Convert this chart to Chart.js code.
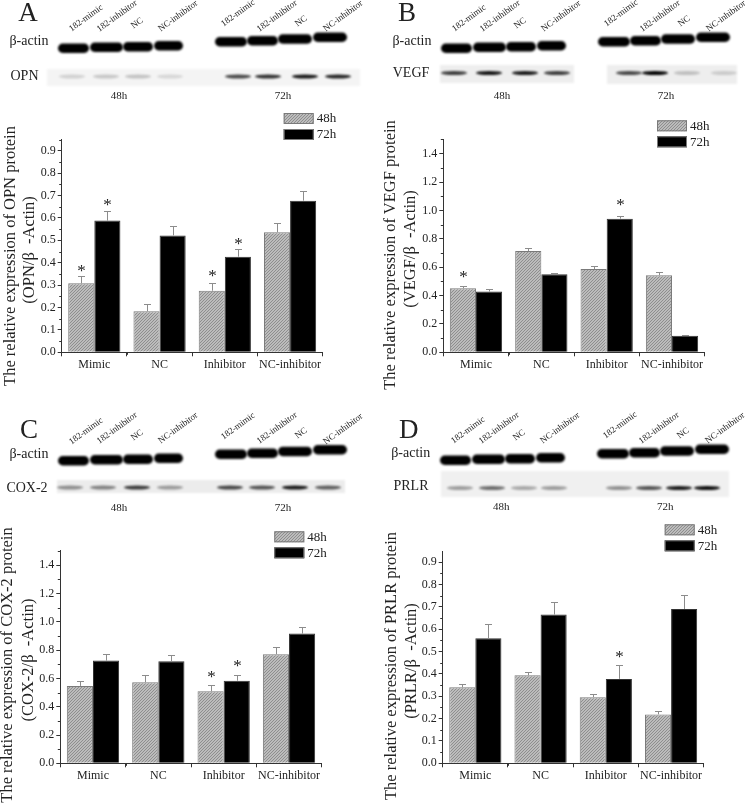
<!DOCTYPE html>
<html>
<head>
<meta charset="utf-8">
<style>
    html, body { margin: 0; padding: 0; background: #fff; }
    #page { position: relative; width: 745px; height: 805px; overflow: hidden; font-family: "Liberation Serif", serif; color: #222; filter: blur(0.3px); }
    #page canvas { position: absolute; }
    .txt { position: absolute; white-space: pre; line-height: 1; }
</style>
</head>
<body>
<div id="page"><canvas id="blots" width="745" height="805" style="left:0;top:0"></canvas></div>
<script src="https://cdn.jsdelivr.net/npm/chart.js@4/dist/chart.umd.min.js"></script>
<script>
const categories = ['Mimic', 'NC', 'Inhibitor', 'NC-inhibitor'];
const seriesNames = ['48h', '72h'];
const laneNames = ['182-mimic', '182-inhibitor', 'NC', 'NC-inhibitor'];

// Panel A, OPN
const opn48 = [0.308, 0.183, 0.275, 0.536];
const opn72 = [0.588, 0.522, 0.427, 0.677];
const opnTop48 = [0.339, 0.214, 0.308, 0.577];
const opnTop72 = [0.629, 0.563, 0.460, 0.719];
const opnStar48 = [0.375, null, 0.353, null];
const opnStar72 = [0.670, null, 0.497, null];

// Panel B, VEGF
const vegf48 = [0.451, 0.714, 0.587, 0.543];
const vegf72 = [0.428, 0.550, 0.942, 0.117];
const vegfTop48 = [0.465, 0.733, 0.606, 0.564];
const vegfTop72 = [0.446, 0.556, 0.960, 0.122];
const vegfStar48 = [0.552, null, null, null];
const vegfStar72 = [null, null, 1.057, null];

// Panel C, COX-2
const cox48 = [0.547, 0.573, 0.509, 0.771];
const cox72 = [0.726, 0.721, 0.584, 0.917];
const coxTop48 = [0.582, 0.625, 0.551, 0.820];
const coxTop72 = [0.771, 0.766, 0.622, 0.962];
const coxStar48 = [null, null, 0.634, null];
const coxStar72 = [null, null, 0.709, null];

// Panel D, PRLR
const prlr48 = [0.340, 0.394, 0.296, 0.219];
const prlr72 = [0.560, 0.666, 0.378, 0.691];
const prlrTop48 = [0.354, 0.407, 0.310, 0.233];
const prlrTop72 = [0.622, 0.721, 0.439, 0.752];
const prlrStar48 = [null, null, null, null];
const prlrStar72 = [null, null, 0.491, null];

// Blot band darkness, 8 lanes each
const opnBands = [0.14, 0.18, 0.2, 0.12, 0.7, 0.8, 0.9, 0.85];
const vegfBands = [0.75, 0.92, 0.9, 0.75, 0.7, 1, 0.2, 0.15];
const coxBands = [0.4, 0.45, 0.75, 0.35, 0.7, 0.65, 0.9, 0.6];
const prlrBands = [0.35, 0.55, 0.3, 0.35, 0.4, 0.65, 0.9, 0.95];

const panels = [
    { letter: 'A', protein: 'OPN', short: 'OPN', ox: 0, oy: 0, letterX: 28, letterY: 12,
      s48: opn48, s72: opn72, top48: opnTop48, top72: opnTop72, star48: opnStar48, star72: opnStar72,
      max: 0.951, step: 0.1, canvasTop: 105, left: 61.7, right: 322.7, axisTop: 139.3, zero: 352.3,
      legendX: 283.7, legendY: 113, title1: [10.3, 255.5], title2: [29, 250],
      actinLabel: [29, 41], rowLabel: [24.5, 76], hourY: 94.7, hourX: [119, 283],
      bands: opnBands, bandY: 76.5, bandX: [72, 106, 138, 170, 238, 268, 305, 338],
      patches: [[47, 69, 313, 17, '#f4f4f4']] },
    { letter: 'B', protein: 'VEGF', short: 'VEGF', ox: 383, oy: 0, letterX: 407, letterY: 12,
      s48: vegf48, s72: vegf72, top48: vegfTop48, top72: vegfTop72, star48: vegfStar48, star72: vegfStar72,
      max: 1.501, step: 0.2, canvasTop: 105, left: 443.3, right: 704.7, axisTop: 139.3, zero: 352.3,
      legendX: 657, legendY: 120.3, title1: [390.3, 254.5], title2: [410.3, 248.7],
      actinLabel: [412, 41], rowLabel: [411, 73], hourY: 94.7, hourX: [502, 666],
      bands: vegfBands, bandY: 73, bandX: [71, 106, 142, 174, 246, 272, 304, 341],
      patches: [[440, 65, 134, 18, '#eeeeee'], [607, 65, 130, 19, '#eeeeee']] },
    { letter: 'C', protein: 'COX-2', short: 'COX-2', ox: 0, oy: 412.5, letterX: 29, letterY: 429,
      s48: cox48, s72: cox72, top48: coxTop48, top72: coxTop72, star48: coxStar48, star72: coxStar72,
      max: 1.503, step: 0.2, canvasTop: 520, left: 60.3, right: 321.7, axisTop: 550.7, zero: 763.3,
      legendX: 274.3, legendY: 531.3, title1: [7, 664.7], title2: [28, 660],
      actinLabel: [29, 454], rowLabel: [27, 488], hourY: 507, hourX: [119, 283],
      bands: coxBands, bandY: 487.5, bandX: [70, 103, 137, 170, 230, 262, 295, 328],
      patches: [[57, 480, 288, 13, '#ececec']] },
    { letter: 'D', protein: 'PRLR', short: 'PRLR', ox: 382, oy: 412, letterX: 408.7, letterY: 429,
      s48: prlr48, s72: prlr72, top48: prlrTop48, top72: prlrTop72, star48: prlrStar48, star72: prlrStar72,
      max: 0.9475, step: 0.1, canvasTop: 515, left: 442.7, right: 703.7, axisTop: 551.7, zero: 763.3,
      legendX: 664.7, legendY: 524.3, title1: [391.3, 665.5], title2: [411.3, 661],
      actinLabel: [410.7, 452.7], rowLabel: [411, 485.7], hourY: 505.7, hourX: [501.3, 665.3],
      bands: prlrBands, bandY: 488, bandX: [78, 110, 142, 172, 237, 267, 297, 325],
      patches: [[441, 471, 288, 26, '#f0f0f0']] }
];

const FONT = '"Liberation Serif", serif';
const page = document.getElementById('page');

// Put a centred bit of text on the page
function addText(text, x, y, size, angle) {
    const el = document.createElement('div');
    el.className = 'txt';
    el.textContent = text;
    el.style.left = x + 'px';
    el.style.top = y + 'px';
    el.style.fontSize = size + 'px';
    el.style.transform = 'translate(-50%,-50%) rotate(' + (angle || 0) + 'deg)';
    page.appendChild(el);
}

// Hatched fill for the 48h bars
function makeHatch() {
    const tile = document.createElement('canvas');
    tile.width = 3;
    tile.height = 3;
    const c = tile.getContext('2d');
    c.fillStyle = '#bcbcbc';
    c.fillRect(0, 0, 3, 3);
    c.fillStyle = '#8e8e8e';
    c.fillRect(2, 0, 1, 1);
    c.fillRect(1, 1, 1, 1);
    c.fillRect(0, 2, 1, 1);
    return c.createPattern(tile, 'repeat');
}
const hatch = makeHatch();

// Western blot strips above each chart
function drawBlots() {
    const ctx = document.getElementById('blots').getContext('2d');
    // left edge, width and centre y of the beta-actin bands
    const actin = [[58, 31, 48.3], [90, 33, 47.3], [123, 30, 46.7], [154, 29, 45.7],
                   [215, 32, 41.7], [247, 31, 40.7], [278, 34, 39], [313, 34, 37.3]];
    panels.forEach(function(p) {
        p.patches.forEach(function(r) {
            ctx.fillStyle = r[4];
            ctx.filter = 'blur(1px)';
            ctx.fillRect(r[0], r[1], r[2], r[3]);
        });
        ctx.filter = 'blur(1.1px)';
        ctx.fillStyle = '#000';
        actin.forEach(function(b) {
            ctx.beginPath();
            ctx.roundRect(p.ox + b[0], p.oy + b[2] - 4.7, b[1], 9.4, 4.7);
            ctx.fill();
        });
        ctx.filter = 'blur(0.9px)';
        p.bands.forEach(function(a, i) {
            ctx.fillStyle = 'rgba(0,0,0,' + a + ')';
            ctx.beginPath();
            ctx.ellipse(p.ox + p.bandX[i], p.bandY, 13, 2, 0, 0, Math.PI * 2);
            ctx.fill();
        });
        ctx.filter = 'none';
    });
}

function drawPageText() {
    const laneCentres = [[85.7, 18.3], [116.7, 15.7], [137.3, 22.7], [178.3, 15.7],
                         [238.3, 13.3], [276.7, 15.7], [300.7, 20.7], [343.3, 16]];
    panels.forEach(function(p) {
        addText(p.letter, p.letterX, p.letterY, 27);
        addText('β-actin', p.actinLabel[0], p.actinLabel[1], 14);
        addText(p.short, p.rowLabel[0], p.rowLabel[1], 14);
        addText(seriesNames[0], p.hourX[0], p.hourY, 11);
        addText(seriesNames[1], p.hourX[1], p.hourY, 11);
        laneCentres.forEach(function(c, i) {
            addText(laneNames[i % 4], p.ox + c[0], p.oy + c[1], 9, -36);
        });
        addText('The relative expression of ' + p.protein + ' protein', p.title1[0], p.title1[1], 16.5, -90);
        addText('(' + p.short + '/β  -Actin)', p.title2[0], p.title2[1], 16.5, -90);
    });
}

// Minor ticks, error bars, asterisks and the legend box
const extras = {
    id: 'extras',
    afterDatasetsDraw(chart, args, opts) {
        const p = opts.panel;
        const ctx = chart.ctx;
        const x = chart.scales.x;
        const y = chart.scales.y;
        ctx.save();

        ctx.strokeStyle = '#333';
        ctx.lineWidth = 1;
        ctx.beginPath();
        for (let v = p.step / 2; v < p.max; v += p.step) {
            const py = Math.round(y.getPixelForValue(v)) + 0.5;
            ctx.moveTo(x.left - 2.5, py);
            ctx.lineTo(x.left, py);
        }
        for (let i = 0; i < categories.length - 1; i++) {
            const px = Math.round(x.getPixelForValue(i + 0.5)) + 0.5;
            ctx.moveTo(px, y.bottom);
            ctx.lineTo(px, y.bottom + 2.5);
        }
        ctx.stroke();

        [[p.s48, p.top48, p.star48], [p.s72, p.top72, p.star72]].forEach(function(s, d) {
            const bars = chart.getDatasetMeta(d).data;
            s[0].forEach(function(val, i) {
                const bx = Math.round(bars[i].x) + 0.5;
                const base = y.getPixelForValue(val);
                const top = Math.round(y.getPixelForValue(s[1][i])) + 0.5;
                ctx.strokeStyle = '#8c8c8c';
                ctx.beginPath();
                ctx.moveTo(bx, base);
                ctx.lineTo(bx, top);
                ctx.moveTo(bx - 3.5, top);
                ctx.lineTo(bx + 3.5, top);
                ctx.stroke();
                if (s[2][i] !== null) {
                    ctx.fillStyle = '#222';
                    ctx.font = '17px ' + FONT;
                    ctx.textAlign = 'center';
                    ctx.textBaseline = 'alphabetic';
                    ctx.fillText('*', bx, y.getPixelForValue(s[2][i]) + 8);
                }
            });
        });

        chart.data.datasets.forEach(function(ds, i) {
            const ly = p.legendY - p.canvasTop + i * 16;
            ctx.fillStyle = ds.backgroundColor;
            ctx.fillRect(p.legendX, ly, 30, 11);
            ctx.strokeStyle = '#7a7a7a';
            ctx.strokeRect(p.legendX + 0.5, ly + 0.5, 29, 10);
            ctx.fillStyle = '#222';
            ctx.font = '13px ' + FONT;
            ctx.textAlign = 'left';
            ctx.textBaseline = 'middle';
            ctx.fillText(ds.label, p.legendX + 33, ly + 6);
        });
        ctx.restore();
    }
};

function drawChart(p) {
    const W = 372;
    const H = 280;
    const canvasLeft = p.left < 372 ? 0 : 372;
    const yWidth = 40;
    const xHeight = 26;
    const canvas = document.createElement('canvas');
    canvas.width = W;
    canvas.height = H;
    canvas.style.left = canvasLeft + 'px';
    canvas.style.top = p.canvasTop + 'px';
    page.appendChild(canvas);

    // the legend sits right of the plot, so it is drawn with x relative to this canvas
    const local = Object.assign({}, p, { legendX: p.legendX - canvasLeft });

    new Chart(canvas.getContext('2d'), {
        type: 'bar',
        data: {
            labels: categories,
            datasets: [
                { label: seriesNames[0], data: p.s48, backgroundColor: hatch, borderColor: '#7a7a7a', borderWidth: 1 },
                { label: seriesNames[1], data: p.s72, backgroundColor: '#000', borderColor: '#333', borderWidth: 1 }
            ]
        },
        options: {
            responsive: false,
            animation: false,
            layout: {
                padding: {
                    left: p.left - canvasLeft - yWidth,
                    right: W - (p.right - canvasLeft),
                    top: p.axisTop - p.canvasTop,
                    bottom: H - (p.zero - p.canvasTop) - xHeight
                }
            },
            datasets: { bar: { categoryPercentage: 0.8, barPercentage: 1 } },
            plugins: {
                legend: { display: false },
                tooltip: { enabled: false },
                extras: { panel: local }
            },
            scales: {
                x: {
                    afterFit: function(s) { s.height = xHeight; },
                    border: { color: '#333', width: 1 },
                    grid: { drawOnChartArea: false, tickLength: 4, tickColor: '#333' },
                    ticks: { color: '#222', font: { family: FONT, size: 12 }, padding: 1, maxRotation: 0, autoSkip: false }
                },
                y: {
                    min: 0,
                    max: p.max,
                    afterFit: function(s) { s.width = yWidth; },
                    border: { color: '#333', width: 1 },
                    grid: { drawOnChartArea: false, tickLength: 4, tickColor: '#333' },
                    ticks: {
                        stepSize: p.step,
                        includeBounds: false,
                        color: '#222',
                        padding: 2,
                        font: { family: FONT, size: 12 },
                        callback: function(v) { return v.toFixed(1); }
                    }
                }
            }
        },
        plugins: [extras]
    });
}

drawBlots();
drawPageText();
panels.forEach(drawChart);
</script>
</body>
</html>
